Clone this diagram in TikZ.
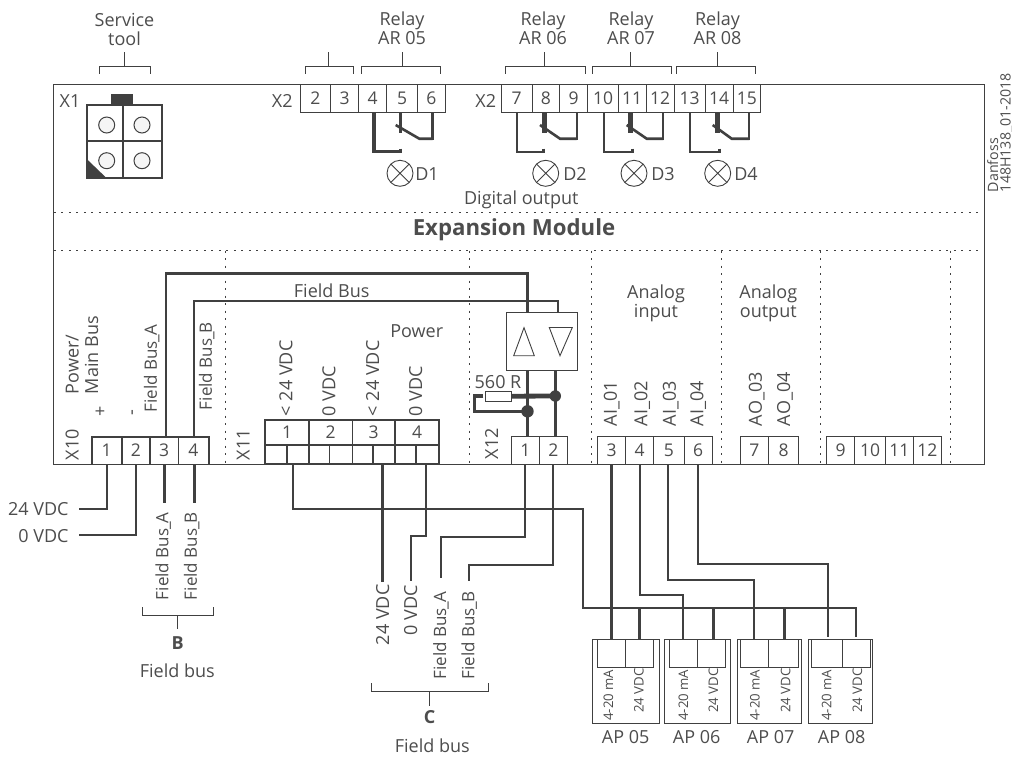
\documentclass[tikz,border=0pt]{standalone}
\usepackage{fontspec}
\setmainfont{Open Sans}
\definecolor{ink}{HTML}{404040}
\definecolor{txt}{HTML}{4D4D4D}
\tikzset{
  x=1pt,y=-1pt,
  every node/.style={text=txt,inner sep=0pt,outer sep=0pt,font=\fontsize{18}{19}\selectfont,align=center},
  terminal/.style={draw=ink,line width=0.9pt,fill=white,font=\fontsize{17.5}{19}\selectfont},
  thickterm/.style={draw=ink,line width=1.6pt,fill=white,font=\fontsize{17.5}{19}\selectfont},
  wire/.style={draw=ink,line width=1.9pt,line join=miter},
  hwire/.style={draw=ink,line width=2.6pt,line join=miter},
  thin line/.style={draw=ink,line width=0.9pt},
  brk/.style={draw=ink,line width=0.9pt},
  sep/.style={draw=ink,line width=1pt,dash pattern=on 2pt off 5.5pt},
  rot/.style={rotate=90,anchor=west},
  rotc/.style={rotate=90,anchor=center},
  small rot/.style={rotate=90,anchor=west,font=\fontsize{13.2}{16}\selectfont},
  stamp/.style={rotate=90,anchor=base west,font=\fontsize{14.2}{16}\selectfont},
  conn/.style={draw=ink,line width=2pt},
  pin/.style={draw=ink,line width=1pt,fill=black!4,circle,minimum size=16pt},
  lamp/.style={draw=ink,line width=0.9pt,circle,minimum size=26pt,fill=white},
}
\newcommand{\fbl}[1]{{\fontsize{17}{19}\selectfont Field Bus\kern-1pt\_\kern-1pt #1}}
\newcommand{\tbox}[7][0pt]{%
  \pgfmathsetmacro\tbw{#4-#3}\pgfmathsetmacro\tbh{#6-#5}%
  \pgfmathsetmacro\tbx{(#3+#4)/2}\pgfmathsetmacro\tby{(#5+#6)/2}%
  \node[terminal,minimum width=\tbw pt,minimum height=\tbh pt] (#2) at (\tbx,\tby) {\raisebox{#1}{#7}};}
\newcommand{\tcell}[7][0pt]{%
  \pgfmathsetmacro\tbw{#4-#3}\pgfmathsetmacro\tbh{#6-#5}%
  \pgfmathsetmacro\tbx{(#3+#4)/2}\pgfmathsetmacro\tby{(#5+#6)/2}%
  \node[thickterm,minimum width=\tbw pt,minimum height=\tbh pt] (#2) at (\tbx,\tby) {\raisebox{#1}{#7}};}
\newcommand{\brkt}[5]{% x1 x2 stemx ybar ystem
  \draw[brk] (#1,#4+7) -- (#1,#4) -- (#2,#4) -- (#2,#4+7);
  \draw[brk] (#3,#4) -- (#3,#5);}
\newcommand{\lampx}[3]{%
  \node[lamp] (#1) at (#2,#3) {};
  \draw[thin line] (#1.north west) -- (#1.south east) (#1.north east) -- (#1.south west);}
\begin{document}
\begin{tikzpicture}
\useasboundingbox (0,0) rectangle (1012,756);
\fill[white] (0,0) rectangle (1012,756);

% frame
\draw[draw=ink,line width=1pt] (53.3,84) rectangle (984,464.5);
\draw[sep] (53.8,212) -- (983.5,212);
\draw[sep] (53.8,250) -- (983.5,250);
\foreach \sx in {225,469,591.6,721,820,950}
  \draw[sep] (\sx,250.5) -- (\sx,464);

% top labels
\node (lsvc) at (124.5,29.5) {Service\\tool};
\node (lar5) at (402,28.5) {Relay\\AR 05};
\node (lar6) at (543,28.5) {Relay\\AR 06};
\node (lar7) at (631,28.5) {Relay\\AR 07};
\node (lar8) at (717.5,28.5) {Relay\\AR 08};
\brkt{99}{150}{124.7}{66.7}{51.7}
\brkt{305.3}{353.7}{328}{66.7}{51.7}
\brkt{361}{440}{402}{66.7}{51.7}
\brkt{505.7}{585.3}{544.3}{66.7}{51.7}
\brkt{592.3}{671.7}{630.7}{66.7}{51.7}
\brkt{676.3}{755.7}{717.3}{66.7}{51.7}

\node (lx1) at (70,101) {X1};
\node (lx2a) at (282.3,101) {X2};
\node (lx2b) at (485.7,101) {X2};

% service connector
\fill[ink] (111.3,94) rectangle (132.7,105);
\draw[conn,fill=white] (86.7,105) rectangle (162.3,177.7);
\draw[conn] (123.3,105) -- (123.3,177.7) (86.7,141.3) -- (162.3,141.3);
\node[pin] (p1) at (106.7,125) {};
\node[pin] (p2) at (142,125) {};
\node[pin] (p3) at (106.7,160.7) {};
\node[pin] (p4) at (142,160.7) {};
\fill[ink] (86.7,159) -- (86.7,178.5) -- (107,178.5) -- cycle;

% X2 terminals
\tbox{t2}{300}{330.7}{84}{112}{2}
\tbox{t3}{330.7}{358.7}{84}{112}{3}
\tbox{t4}{358.7}{386.7}{84}{112}{4}
\tbox{t5}{386.7}{417.3}{84}{112}{5}
\tbox{t6}{417.3}{445.3}{84}{112}{6}
\tbox{t7}{501.3}{532}{84}{112}{7}
\tbox{t8}{532}{559.7}{84}{112}{8}
\tbox{t9}{559.7}{587.7}{84}{112}{9}
\tbox{t10}{587.7}{618.3}{84}{112}{10}
\tbox{t11}{618.3}{646}{84}{112}{11}
\tbox{t12}{646}{674}{84}{112}{12}
\tbox{t13}{674}{705}{84}{112}{13}
\tbox{t14}{705}{733}{84}{112}{14}
\tbox{t15}{733}{760.7}{84}{112}{15}

% relay contacts
\foreach \lx/\bx/\px/\bla/\blb/\rx/\pw/\lw in
 {374/400.7/400.7/395.7/419.3/432.7/2.5/3.2,
  517.3/543.3/544/540/560/576.7/5/1.9,
  604.3/632.7/630.7/626.7/646.7/663.3/5/1.9,
  690/719.3/717/712.7/731.7/749.3/5/1.9}{
  \draw[draw=ink,line width=\lw pt] (\lx,112) -- (\lx,151.7) -- (\bx,151.7);
  \draw[draw=ink,line width=3pt] (\bx,148.7) -- (\bx,152.7);
  \draw[draw=ink,line width=\pw pt] (\px,112) -- (\px,132.7);
  \draw[draw=ink,line width=2.6pt] (\bla,125) -- (\blb,138.7) -- (\rx,138.7);
  \draw[draw=ink,line width=\lw pt] (\rx,139.7) -- (\rx,112);
}
\lampx{d1}{400}{173.3}
\lampx{d2}{545.7}{173.3}
\lampx{d3}{634}{173.3}
\lampx{d4}{717.7}{173.3}
\node (ld1) at (427,174) {D1};
\node (ld2) at (575,174) {D2};
\node (ld3) at (663,174) {D3};
\node (ld4) at (746,174) {D4};
\node (ldo) at (521.3,199.5) {Digital output};
\node[font=\bfseries\fontsize{22.2}{24}\selectfont] (lem) at (514,230) {Expansion Module};
\node[stamp] (ldan) at (998,192) {Danfoss};
\node[stamp] (lcode) at (1010.5,192) {148H138\_01-2018};

% bottom terminals
\tcell[-3pt]{x1}{91.7}{121.7}{436.7}{464.5}{1}
\tcell[-3pt]{x2}{121.7}{150}{436.7}{464.5}{2}
\tcell[-3pt]{x3}{150}{178.3}{436.7}{464.5}{3}
\tcell[-3pt]{x4}{178.3}{208.7}{436.7}{464.5}{4}

\tcell{y1}{265}{309}{420}{445}{1}
\tcell{y2}{309}{352.3}{420}{445}{2}
\tcell{y3}{352.3}{395}{420}{445}{3}
\tcell{y4}{395}{439}{420}{445}{4}
\foreach \nm/\ca/\cb in {ya/265/286.7,yb/286.7/309,yc/309/329.3,yd/329.3/352.3,ye/352.3/372.7,yf/372.7/395,yg/395/415.7,yh/415.7/439}
  {\tcell{\nm}{\ca}{\cb}{445}{463.5}{}}

\tbox[-3pt]{z1}{511.3}{539.3}{436.7}{464.5}{1}
\tbox[-3pt]{z2}{539.3}{567.3}{436.7}{464.5}{2}
\tbox[-3pt]{a3}{597.7}{625.7}{436.7}{464.5}{3}
\tbox[-3pt]{a4}{625.7}{653.7}{436.7}{464.5}{4}
\tbox[-3pt]{a5}{653.7}{684}{436.7}{464.5}{5}
\tbox[-3pt]{a6}{684}{712.3}{436.7}{464.5}{6}
\tbox[-3pt]{o7}{740.3}{768.3}{436.7}{464.5}{7}
\tbox[-3pt]{o8}{768.3}{798.7}{436.7}{464.5}{8}
\tbox[-3pt]{n9}{826.7}{854.7}{436.7}{464.5}{9}
\tbox[-3pt]{n10}{854.7}{885.3}{436.7}{464.5}{10}
\tbox[-3pt]{n11}{885.3}{913.3}{436.7}{464.5}{11}
\tbox[-3pt]{n12}{913.3}{941.3}{436.7}{464.5}{12}

% driver box
\node[terminal,minimum width=71.3pt,minimum height=58.4pt] (drv) at (541.7,341.5) {};
\draw[thin line] (524,327.7) -- (513.7,355.7) -- (534.3,355.7) -- cycle;
\draw[thin line] (549.3,327.5) -- (572.3,327.5) -- (560,355.7) -- cycle;

% field bus wires in module
\coordinate (fa1) at (166,273.3);
\coordinate (fa2) at (527.7,273.3);
\coordinate (fb1) at (194.3,301);
\coordinate (fb2) at (558.3,301);
\coordinate (da) at (527.7,312.3);
\coordinate (db) at (558.3,312.3);
\draw[hwire] (fa1 |- x3.north) -- (fa1) -- (fa2) -- (da);
\draw[wire] (fb1 |- x4.north) -- (fb1) -- (fb2) -- (db);
\coordinate (du) at (527.3,370.7);
\coordinate (dv) at (555.3,370.7);
\draw[hwire] (du) -- (z1.north -| du);
\draw[hwire] (dv) -- (z2.north -| dv);

% resistor
\node[draw=ink,line width=0.9pt,fill=white,minimum width=26pt,minimum height=9.7pt] (res) at (498.3,396.2) {};
\fill[ink] (555.3,396) circle (5.7);
\fill[ink] (527.5,411.3) circle (6.2);
\coordinate (jr) at (555.3,396);
\coordinate (jl) at (527.5,411.3);
\coordinate (rc) at (474.3,396);
\draw[draw=ink,line width=4.8pt] (res.east) -- (jr);
\draw[draw=ink,line width=3.6pt] (483.3,396) -- (rc) -- (rc |- jl) -- (jl);
\node (l560) at (498,382) {560 R};

% labels inside module
\node[rot] (lx10) at (72.3,460) {X10};
\node[rot] (lpw) at (72.3,394) {Power/};
\node[rot] (lmb) at (91.7,394) {Main Bus};
\node[rotc] (lplus) at (101,411) {+};
\node[rotc] (lminus) at (134.3,413) {-};
\node[rot] (lfa) at (151.7,412.5) {\fbl{A}};
\node[rot] (lfb) at (206.7,410) {\fbl{B}};
\node (lfbus) at (331.7,290.5) {Field Bus};
\node (lpow) at (416.7,331.5) {Power};
\node[rot] (lx11) at (243.3,460) {X11};
\node[rot] (l24a) at (286,416) {< 24 VDC};
\node[rot] (l0a) at (329,416) {0 VDC};
\node[rot] (l24b) at (372.7,416) {< 24 VDC};
\node[rot] (l0b) at (415.7,416) {0 VDC};
\node[rot] (lx12) at (491.7,459) {X12};
\node (lai) at (656,303.5) {Analog\\input};
\node (lao) at (768.3,303.5) {Analog\\output};
\node[rot] (la1) at (611.7,426) {AI\_01};
\node[rot] (la2) at (642.3,426) {AI\_02};
\node[rot] (la3) at (670.7,426) {AI\_03};
\node[rot] (la4) at (698.3,426) {AI\_04};
\node[rot] (lo3) at (756.7,426) {AO\_03};
\node[rot] (lo4) at (785,426) {AO\_04};

% X10 outside
\node[anchor=east] (l24v) at (68.5,509) {24 VDC};
\node[anchor=east] (l0v) at (68.5,536) {0 VDC};
\coordinate (w24) at (79,509);
\coordinate (w0) at (79,535);
\draw[wire] (x1.south) |- (w24);
\draw[wire] (x2.south) |- (w0);
\coordinate (ea) at (164.3,502.7);
\coordinate (eb) at (194.3,502.7);
\draw[hwire] (ea |- x3.south) -- (ea);
\draw[hwire] (eb |- x4.south) -- (eb);
\node[rot] (lba) at (163.3,600) {\fbl{A}};
\node[rot] (lbb) at (191.7,600) {\fbl{B}};
\draw[brk] (142.3,607.3) -- (142.3,615) -- (213.7,615) -- (213.7,607.3);
\draw[brk] (177.7,615) -- (177.7,629.3);
\node[font=\bfseries\fontsize{18}{19}\selectfont] (lB) at (177.7,643.5) {B};
\node (lfb2) at (177.3,671) {Field bus};

% AP modules
\foreach \xa/\xb in {592.7/659,664/730,737.7/801.3,808.7/872.7}
  \draw[thin line,fill=white] (\xa,639.3) rectangle (\xb,723.3);
\tbox{ap5a}{597.7}{625.7}{639.3}{667.3}{}
\tbox{ap5b}{625.7}{653.7}{639.3}{667.3}{}
\tbox{ap6a}{669}{697}{639.3}{667.3}{}
\tbox{ap6b}{697}{725}{639.3}{667.3}{}
\tbox{ap7a}{740.3}{768.3}{639.3}{667.3}{}
\tbox{ap7b}{768.3}{798.7}{639.3}{667.3}{}
\tbox{ap8a}{811.7}{842}{639.3}{667.3}{}
\tbox{ap8b}{842}{870}{639.3}{667.3}{}
\foreach \nn/\xx/\yy/\ltxt in {m1/608.3/720.7/4-20 mA,m2/683.3/720.7/4-20 mA,m3/755/720.7/4-20 mA,m4/826.7/720.7/4-20 mA,
   v1/639/712.7/24 VDC,v2/713.3/712.7/24 VDC,v3/785.7/712.7/24 VDC,v4/857.3/712.7/24 VDC}
  \node[small rot] (\nn) at (\xx,\yy) {\ltxt};
\node (lap5) at (625.7,737.5) {AP 05};
\node (lap6) at (696.7,737.5) {AP 06};
\node (lap7) at (770.7,737.5) {AP 07};
\node (lap8) at (841.7,737.5) {AP 08};

% long wires
\coordinate (c1) at (293.3,509);
\coordinate (c2) at (583.3,509);
\coordinate (c3) at (583.3,608.3);
\coordinate (c4) at (856,608.3);
\coordinate (c5) at (856,636.7);
\draw[wire] (yb.south -| c1) -- (c1) -- (c2) -- (c3) -- (c4) -- (c5);
\coordinate (pv5) at (639.7,608.3);
\coordinate (pv6) at (713.3,608.3);
\coordinate (pv7) at (784.3,608.3);
\draw[hwire] (ap5b.north) -- (pv5);
\draw[hwire] (ap6b.north -| pv6) -- (pv6);
\draw[hwire] (ap7b.north -| pv7) -- (pv7);

\coordinate (s24) at (382.3,581.7);
\draw[hwire] (yf.south -| s24) -- (s24);
\coordinate (s0a) at (426,536);
\coordinate (s0b) at (410.7,536);
\coordinate (s0c) at (410.7,580.7);
\draw[wire] (yh.south -| s0a) -- (s0a) -- (s0b) -- (s0c);
\coordinate (sa) at (525.2,536.7);
\coordinate (sb) at (441,536.7);
\coordinate (sc) at (441,578.3);
\draw[wire] (z1.south) -- (z1.south |- sa) -- (sb) -- (sc);
\coordinate (sd) at (553.3,564.7);
\coordinate (se) at (469,564.7);
\coordinate (sf) at (469,580.7);
\draw[wire] (z2.south) -- (z2.south |- sd) -- (se) -- (sf);

\node[rot] (lc24) at (382.7,645) {24 VDC};
\node[rot] (lc0) at (410.7,635) {0 VDC};
\node[rot] (lca) at (441,679.3) {\fbl{A}};
\node[rot] (lcb) at (469.3,679.3) {\fbl{B}};
\draw[brk] (371.3,683.3) -- (371.3,691) -- (488.3,691) -- (488.3,683.3);
\draw[brk] (429.7,691) -- (429.7,705.7);
\node[font=\bfseries\fontsize{18}{19}\selectfont] (lC) at (429.7,717.5) {C};
\node (lfc) at (432.3,746) {Field bus};

% AI wires
\draw[hwire] (a3.south) -- (ap5a.north);
\coordinate (q1) at (640,595);
\coordinate (q2) at (683.3,595);
\coordinate (q3) at (683.3,639.3);
\draw[wire] (a4.south) -- (a4.south |- q1) -- (q2) -- (q3);
\coordinate (q4) at (667.7,580);
\coordinate (q5) at (754.3,580);
\coordinate (q6) at (754.3,639.3);
\draw[wire] (a5.south -| q4) -- (q4) -- (q5) -- (q6);
\coordinate (q7) at (698.2,564.3);
\coordinate (q8) at (828.3,564.3);
\coordinate (q9) at (828.3,636.7);
\draw[wire] (a6.south) -- (a6.south |- q7) -- (q8) -- (q9);
\end{tikzpicture}
\end{document}
